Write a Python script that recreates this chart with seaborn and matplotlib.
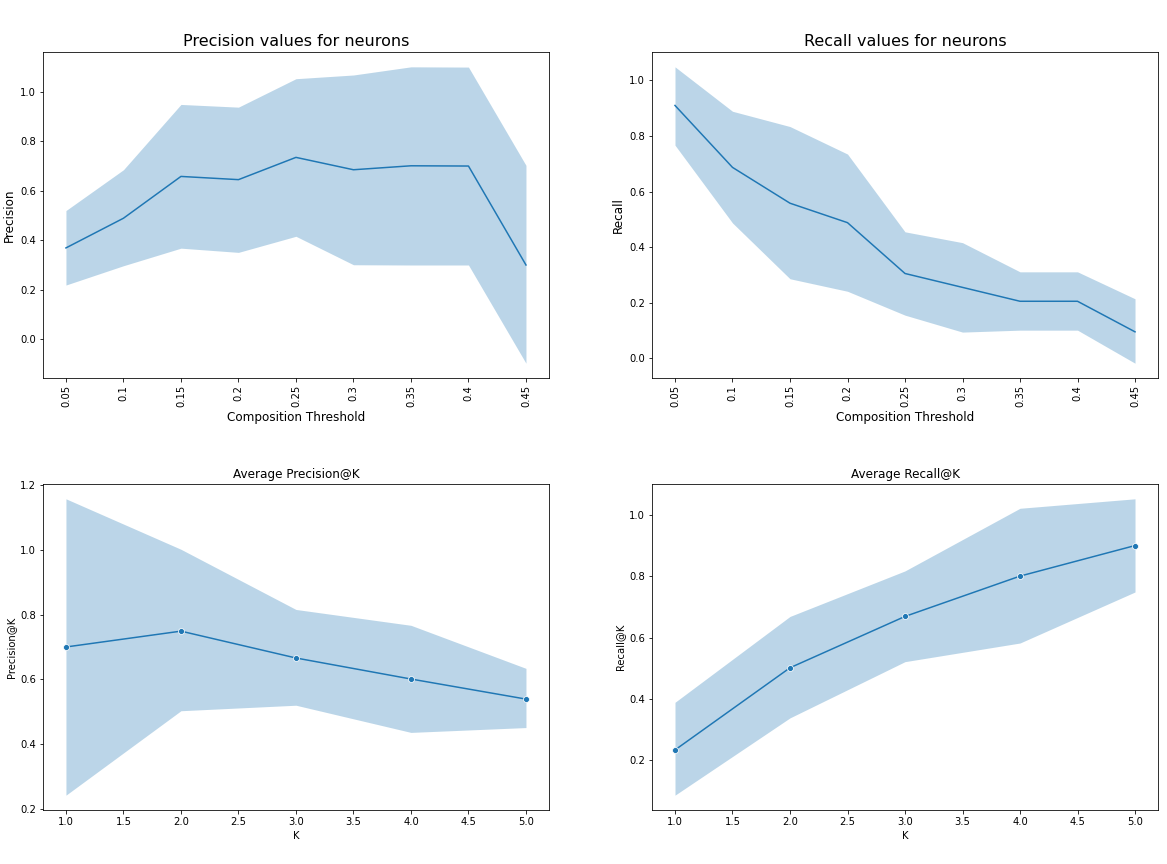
import matplotlib
matplotlib.use("Agg")
import matplotlib.pyplot as plt
import seaborn as sns
import numpy as np

thresholds = ["0.05", "0.1", "0.15", "0.2", "0.25", "0.3", "0.35", "0.4", "0.45"]
prec_mean = [0.369, 0.489, 0.658, 0.645, 0.735, 0.685, 0.701, 0.700, 0.300]
prec_low = [0.219, 0.297, 0.368, 0.351, 0.416, 0.301, 0.300, 0.300, -0.097]
prec_high = [0.520, 0.685, 0.949, 0.938, 1.053, 1.068, 1.101, 1.100, 0.703]

rec_mean = [0.910, 0.687, 0.558, 0.488, 0.305, 0.255, 0.205, 0.205, 0.095]
rec_low = [0.767, 0.487, 0.286, 0.241, 0.155, 0.094, 0.101, 0.101, -0.018]
rec_high = [1.049, 0.889, 0.834, 0.735, 0.455, 0.416, 0.311, 0.311, 0.214]

k_values = [1, 2, 3, 4, 5]
patk_mean = [0.700, 0.749, 0.666, 0.601, 0.539]
patk_low = [0.242, 0.503, 0.520, 0.436, 0.451]
patk_high = [1.158, 1.002, 0.816, 0.767, 0.634]

ratk_mean = [0.232, 0.501, 0.669, 0.801, 0.901]
ratk_low = [0.084, 0.337, 0.521, 0.582, 0.749]
ratk_high = [0.388, 0.669, 0.818, 1.023, 1.054]

color = "#1f77b4"

fig, axes = plt.subplots(2, 2, figsize=(1167 / 72, 864 / 72), dpi=72)
fig.subplots_adjust(left=0.0368, right=0.9923, top=0.9398, bottom=0.0625,
                    wspace=0.2036, hspace=0.325)

# Top-left
ax = axes[0, 0]
sns.lineplot(x=thresholds, y=prec_mean, ax=ax, color=color, sort=False)
ax.fill_between(np.arange(len(thresholds)), prec_low, prec_high, color=color, alpha=0.3, linewidth=0)
ax.set_title("Precision values for neurons", fontsize=16)
ax.set_xlabel("Composition Threshold", fontsize=12)
ax.set_ylabel("Precision", fontsize=12)
ax.tick_params(axis="x", labelrotation=90)

# Top-right
ax = axes[0, 1]
sns.lineplot(x=thresholds, y=rec_mean, ax=ax, color=color, sort=False)
ax.fill_between(np.arange(len(thresholds)), rec_low, rec_high, color=color, alpha=0.3, linewidth=0)
ax.set_title("Recall values for neurons", fontsize=16)
ax.set_xlabel("Composition Threshold", fontsize=12)
ax.set_ylabel("Recall", fontsize=12)
ax.tick_params(axis="x", labelrotation=90)

# Bottom-left
ax = axes[1, 0]
sns.lineplot(x=k_values, y=patk_mean, ax=ax, color=color, marker="o")
ax.fill_between(k_values, patk_low, patk_high, color=color, alpha=0.3, linewidth=0)
ax.set_title("Average Precision@K")
ax.set_xlabel("K")
ax.set_ylabel("Precision@K")

# Bottom-right
ax = axes[1, 1]
sns.lineplot(x=k_values, y=ratk_mean, ax=ax, color=color, marker="o")
ax.fill_between(k_values, ratk_low, ratk_high, color=color, alpha=0.3, linewidth=0)
ax.set_title("Average Recall@K")
ax.set_xlabel("K")
ax.set_ylabel("Recall@K")

fig.savefig("out.png", dpi=72)
